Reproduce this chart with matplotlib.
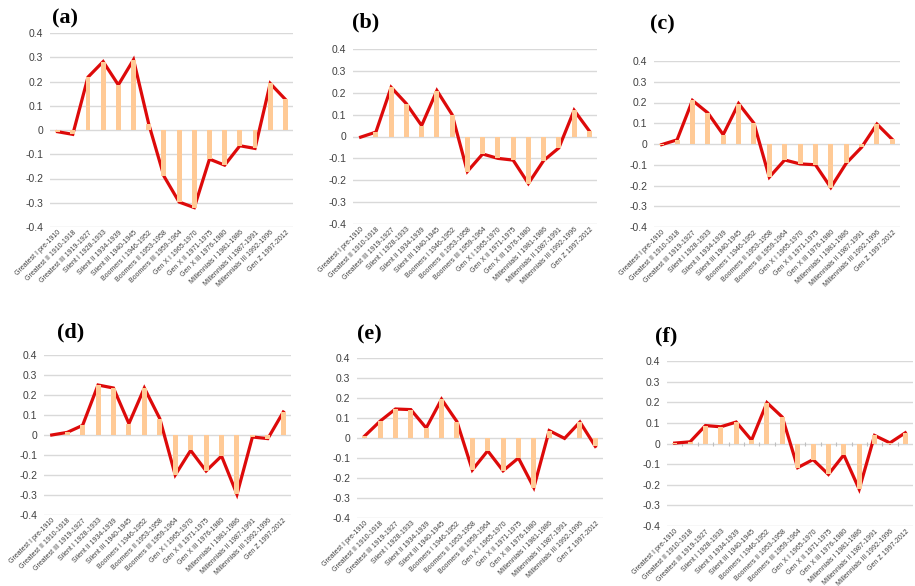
import matplotlib
matplotlib.use("Agg")
import matplotlib.pyplot as plt
import numpy as np

categories = [
    "Greatest I pre-1910", "Greatest II 1910-1918", "Greatest III 1919-1927",
    "Silent I 1928-1933", "Silent II 1934-1939", "Silent III 1940-1945",
    "Boomers I 1946-1952", "Boomers II 1953-1958", "Boomers III 1959-1964",
    "Gen X I 1965-1970", "Gen X II 1971-1975", "Gen X III 1976-1980",
    "Millennials I 1981-1986", "Millennials II 1987-1991", "Millennials III 1992-1996",
    "Gen Z 1997-2012",
]

values_a = [-0.007, -0.018, 0.218, 0.282, 0.186, 0.290, 0.025, -0.190, -0.297, -0.320,
            -0.120, -0.145, -0.065, -0.076, 0.192, 0.126]
values_b = [-0.003, 0.020, 0.225, 0.150, 0.050, 0.210, 0.100, -0.160, -0.080, -0.100,
            -0.108, -0.215, -0.110, -0.052, 0.120, 0.025]
values_c = [-0.003, 0.020, 0.210, 0.150, 0.045, 0.195, 0.100, -0.160, -0.077, -0.096,
            -0.100, -0.210, -0.093, -0.016, 0.096, 0.022]
values_d = [0.000, 0.013, 0.048, 0.250, 0.235, 0.057, 0.235, 0.082, -0.200, -0.077,
            -0.180, -0.105, -0.297, -0.010, -0.018, 0.115]
values_e = [0.010, 0.084, 0.145, 0.142, 0.050, 0.194, 0.082, -0.160, -0.064, -0.164,
            -0.100, -0.248, 0.037, -0.002, 0.080, -0.042]
values_f = [0.002, 0.008, 0.087, 0.081, 0.104, 0.016, 0.198, 0.128, -0.117, -0.078,
            -0.150, -0.055, -0.222, 0.039, 0.003, 0.052]

panel_labels = ["(a)", "(b)", "(c)", "(d)", "(e)", "(f)"]
yticks = [-0.4, -0.3, -0.2, -0.1, 0, 0.1, 0.2, 0.3, 0.4]
ytick_labels = ["-0.4", "-0.3", "-0.2", "-0.1", "0", "0.1", "0.2", "0.3", "0.4"]

W, H = 915, 586
fig = plt.figure(figsize=(W / 100, H / 100), dpi=100)

# pixel boxes: left, right, top, bottom ; title position (x, y) pixels
boxes = [
    (50, 293, 33, 227, 52, 18),
    (353, 597, 49, 224, 352, 22),
    (654, 900, 61, 227, 650, 24),
    (44, 291, 355, 515, 57, 332),
    (357, 603, 358, 518, 357, 334),
    (667, 913, 361, 526, 655, 336),
]
series = [values_a, values_b, values_c, values_d, values_e, values_f]

BAR = "#FFCA96"
LINE = "#DD0A0A"
GRID = "#D9D9D9"

x = np.arange(len(categories))
for i, (vals, box, lab) in enumerate(zip(series, boxes, panel_labels)):
    l, r, t, b, tx, ty = box
    ax = fig.add_axes([l / W, 1 - b / H, (r - l) / W, (b - t) / H])
    ax.set_xlim(-0.5, len(categories) - 0.5)
    ax.set_ylim(-0.4, 0.4)
    ax.set_yticks(yticks)
    ax.set_yticklabels(ytick_labels, fontsize=7.5, color="#404040", family="Liberation Sans")
    ax.grid(axis="y", color=GRID, linewidth=1.0, zorder=0)
    ax.set_axisbelow(True)
    for s in ax.spines.values():
        s.set_visible(False)
    ax.tick_params(axis="y", length=0, pad=5)
    ax.plot(x, vals, color=LINE, linewidth=2.3, zorder=2, clip_on=False,
            solid_joinstyle="miter")
    ax.bar(x, vals, width=0.32, color=BAR, zorder=3, clip_on=False)
    ax.set_xticks(x)
    ax.set_xticklabels(categories, rotation=45, ha="right", rotation_mode="anchor",
                       fontsize=5.0, color="#404040", family="Liberation Sans")
    ax.tick_params(axis="x", length=0, pad=1.5)
    if i == 5:
        ax.scatter(x[:-1] + 0.5, np.zeros(len(x) - 1), marker="|", s=12, color="#BFBFBF",
                   linewidths=0.8, zorder=1)
    fig.text(tx / W, 1 - ty / H, lab, fontsize=16, fontweight="bold",
             family="Liberation Serif", va="center", ha="left")

fig.savefig("out.png", dpi=100)
